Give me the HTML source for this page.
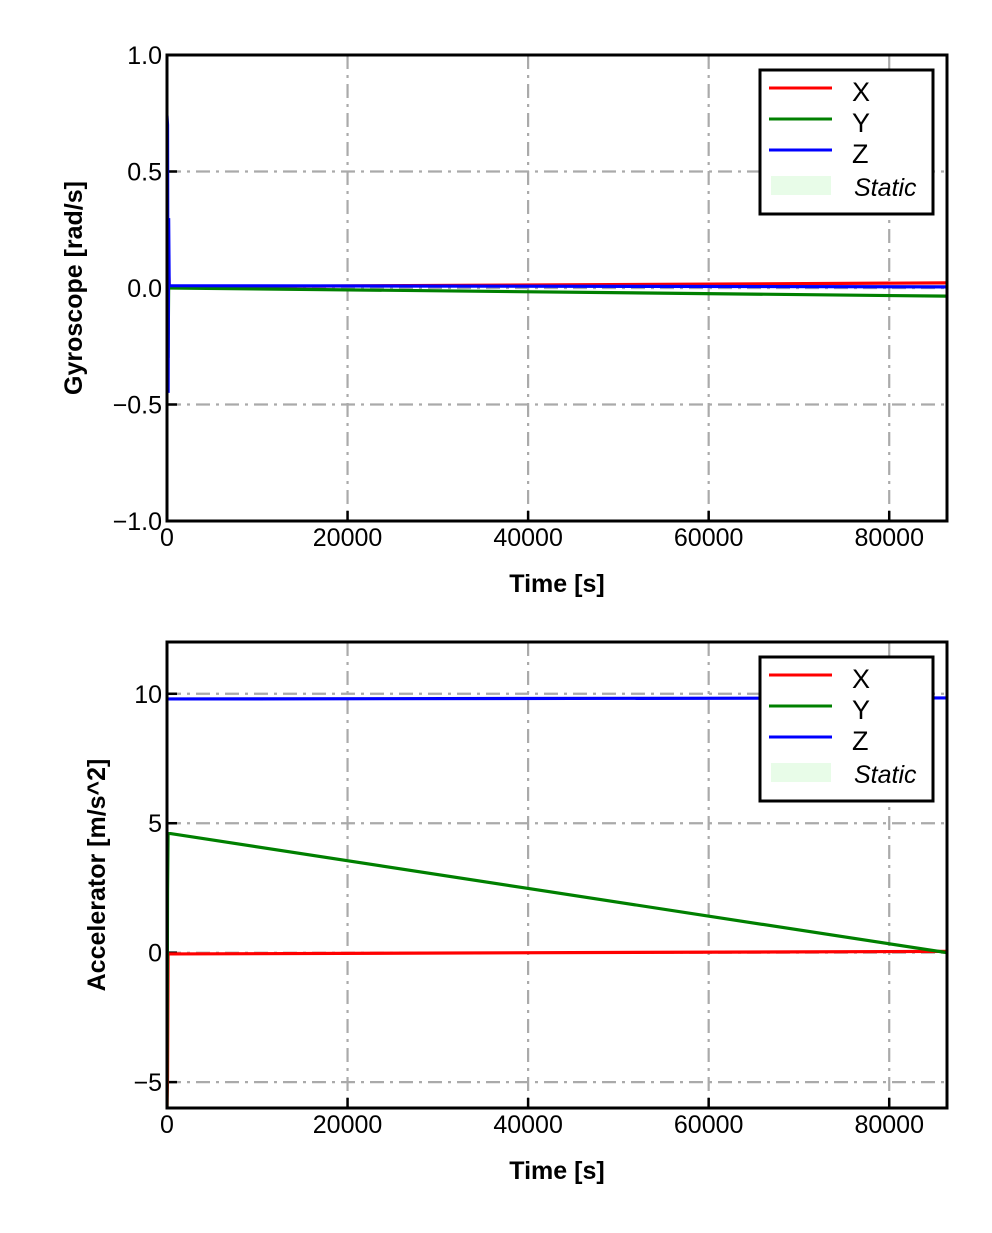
<!DOCTYPE html>
<html><head><meta charset="utf-8"><style>
body{margin:0;background:#fff}
svg text{font-family:"Liberation Sans",sans-serif}
</style></head><body>
<svg id="chart" width="992" height="1228" xmlns="http://www.w3.org/2000/svg"></svg>
<script>
const xTicks=[0,20000,40000,60000,80000];
const gyroTicks=[-1.0,-0.5,0.0,0.5,1.0];
const gyroTickLabels=["\u22121.0","\u22120.5","0.0","0.5","1.0"];
const accTicks=[-5,0,5,10];
const accTickLabels=["\u22125","0","5","10"];
const gyroT=[0,60,120,180,240,300,400,86400];
const gyroX=[0.0,0.3,-0.2,0.1,0.005,0.005,0.005,0.022];
const gyroY=[0.0,0.2,-0.3,0.0,0.0,0.0,0.0,-0.035];
const gyroZ=[0.74,0.7,-0.45,0.3,0.01,0.01,0.01,0.005];
const accT=[0,60,120,200,300,400,86400];
const accX=[-6,-4.8,-0.05,-0.05,-0.05,-0.05,0.05];
const accY=[-6,2.4,4.6,4.6,4.6,4.6,0.0];
const accZ=[9.8,9.8,9.8,9.8,9.8,9.8,9.84];
const NS="http://www.w3.org/2000/svg";
const svg=document.getElementById('chart');
function mk(tag,attrs,parent){const e=document.createElementNS(NS,tag);for(const k in attrs)e.setAttribute(k,attrs[k]);(parent||svg).appendChild(e);return e;}
function panel(cfg){
 const L=167,R=947,T=cfg.top,B=cfg.top+466;
 const xs=v=>L+(v-0)/(86400)*(R-L);
 const ys=v=>B-(v-cfg.ymin)/(cfg.ymax-cfg.ymin)*(B-T);
 const g=mk('g',{});
 
 
 const gs={stroke:'#aaaaaa','stroke-width':2.2,'stroke-dasharray':'14 6 3 6'};
 xTicks.forEach(t=>{if(t>0){const l=mk('line',Object.assign({x1:xs(t),x2:xs(t),y1:T,y2:B},gs),g);}
  const tk=mk('line',{x1:xs(t),x2:xs(t),y1:B,y2:B-10,stroke:'#000','stroke-width':2.5},g);
  const tx=mk('text',{x:xs(t),y:B+25,'font-size':25,'text-anchor':'middle'},g);tx.textContent=t;});
 cfg.ticks.forEach((t,i)=>{if(t>cfg.ymin&&t<cfg.ymax){const l=mk('line',Object.assign({x1:L,x2:R,y1:ys(t),y2:ys(t)},gs),g);}
  const tk=mk('line',{x1:L,x2:L+10,y1:ys(t),y2:ys(t),stroke:'#000','stroke-width':2.5},g);
  const tx=mk('text',{x:L-5,y:ys(t)+9,'font-size':25,'text-anchor':'end'},g);tx.textContent=cfg.labels[i];});
 const cp=mk('clipPath',{id:'c'+cfg.top},g);mk('rect',{x:L,y:T,width:R-L,height:B-T},cp);
 [[cfg.x,'#ff0000','series-x'],[cfg.y,'#008000','series-y'],[cfg.z,'#0000ff','series-z']].forEach(([arr,c,n])=>{
  const d=arr.map((v,i)=>(i?'L':'M')+xs(cfg.t[i]).toFixed(2)+' '+ys(v).toFixed(2)).join(' ');
  const p=mk('path',{d:d,fill:'none',stroke:c,'stroke-width':3.2,'clip-path':'url(#c'+cfg.top+')'},g);
  });
 const f=mk('rect',{x:L,y:T,width:R-L,height:B-T,fill:'none',stroke:'#000','stroke-width':3},g);
 const xt=mk('text',{x:(L+R)/2,y:B+71,'font-size':25,'font-weight':'bold','text-anchor':'middle'},g);xt.textContent='Time [s]';
 const yt=mk('text',{x:0,y:0,'font-size':25,'font-weight':'bold','text-anchor':'middle',transform:`translate(${cfg.ytx},${(T+B)/2}) rotate(-90)`},g);yt.textContent=cfg.ytitle;
 const lg=mk('g',{},g);
 const ly=T+15;
 mk('rect',{x:760,y:ly,width:173,height:144,fill:'#fff',stroke:'#000','stroke-width':3},lg);
 [['X','#ff0000'],['Y','#008000'],['Z','#0000ff']].forEach(([n,c],i)=>{
  const e=mk('g',{},lg);
  mk('line',{x1:769,x2:832,y1:ly+18+31*i,y2:ly+18+31*i,stroke:c,'stroke-width':3},e);
  const t=mk('text',{x:852,y:ly+31+31*i,'font-size':27},e);t.textContent=n;});
 const e=mk('g',{},lg);
 mk('rect',{x:771,y:ly+106,width:60,height:19,fill:'#e8fce8'},e);
 const st=mk('text',{x:854,y:ly+126,'font-size':25,'font-style':'italic','font-family':'Liberation Serif, serif'},e);st.textContent='Static';
}
panel({name:'gyroscope-panel',top:55,ymin:-1,ymax:1,ticks:gyroTicks,labels:gyroTickLabels,t:gyroT,x:gyroX,y:gyroY,z:gyroZ,ytitle:'Gyroscope [rad/s]',ytx:82});
panel({name:'accelerometer-panel',top:642,ymin:-6,ymax:12,ticks:accTicks,labels:accTickLabels,t:accT,x:accX,y:accY,z:accZ,ytitle:'Accelerator [m/s^2]',ytx:105});
</script>
</body></html>
